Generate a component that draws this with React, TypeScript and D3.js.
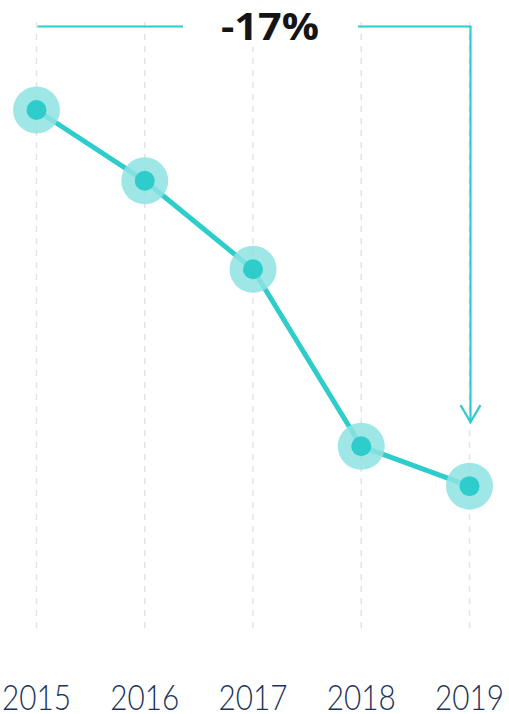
import React, { useEffect, useRef } from "react";
import * as d3 from "d3";

const years = ["2015", "2016", "2017", "2018", "2019"];
const values = [100, 96.8, 92.8, 84.8, 83];
const changeLabel = "-17%";

const W = 509;
const H = 714;

export default function App() {
  const ref = useRef<SVGSVGElement | null>(null);
  useEffect(() => {
    const svg = d3.select(ref.current);
    svg.selectAll("*").remove();
    const x = d3.scalePoint<string>().domain(years).range([36.5, 469.5]);
    const y = d3.scaleLinear().domain([76, 104]).range([641, 21.5]);
    const teal = "#2fcccc";
    const light = "#8ee3e3";

    // gridlines
    svg.append("g").selectAll("line").data(years).join("line")
      .attr("x1", d => x(d)!).attr("x2", d => x(d)!)
      .attr("y1", 22).attr("y2", 632)
      .attr("stroke", "#e3e3e3").attr("stroke-width", 1.5)
      .attr("stroke-dasharray", "6 6");

    // annotation
    const x0 = x(years[0])!;
    const x1 = x(years[years.length - 1])!;
    const ay = 26.5;
    const tip = y(values[values.length - 1]) - 64;
    const ann = svg.append("g");
    ann.append("path")
      .attr("d", `M${x0 + 1},${ay}H${x1 + 1}V${tip}`)
      .attr("fill", "none").attr("stroke", teal).attr("stroke-width", 2.2);
    ann.append("path")
      .attr("d", `M${x1 - 9},${tip - 17}L${x1 + 1},${tip}L${x1 + 11},${tip - 17}`)
      .attr("fill", "none").attr("stroke", teal).attr("stroke-width", 2.2);
    ann.append("rect").attr("x", 183).attr("y", 0).attr("width", 175).attr("height", 47).attr("fill", "#fff");
    ann.append("text")
      .attr("x", 270).attr("y", 40)
      .attr("text-anchor", "middle")
      .attr("font-family", "'Open Sans', sans-serif").attr("font-weight", 700)
      .attr("font-size", 38).attr("fill", "#151515")
      .attr("textLength", 98).attr("lengthAdjust", "spacingAndGlyphs")
      .text(changeLabel);

    // line
    const line = d3.line<number>().x((_, i) => x(years[i])!).y(d => y(d));
    svg.append("path").datum(values).attr("d", line)
      .attr("fill", "none").attr("stroke", teal).attr("stroke-width", 5)
      .attr("stroke-linejoin", "round");

    const pts = svg.append("g").selectAll("g").data(values).join("g")
      .attr("transform", (d, i) => `translate(${x(years[i])},${y(d)})`);
    pts.append("circle").attr("r", 23.5).attr("fill", light).attr("fill-opacity", 0.85);
    pts.append("circle").attr("r", 10).attr("fill", teal);

    // year labels
    svg.append("g").selectAll("text").data(years).join("text")
      .attr("x", d => x(d)!).attr("y", 710)
      .attr("text-anchor", "middle")
      .attr("font-family", "Lato, sans-serif").attr("font-weight", 300)
      .attr("font-size", 36).attr("fill", "#1c3358")
      .attr("textLength", 69).attr("lengthAdjust", "spacingAndGlyphs")
      .text(d => d);
  }, []);
  return (
    <div style={{ position: "absolute", left: 0, top: 0 }}>
      <svg ref={ref} width={W} height={H} style={{ display: "block" }} />
    </div>
  );
}
